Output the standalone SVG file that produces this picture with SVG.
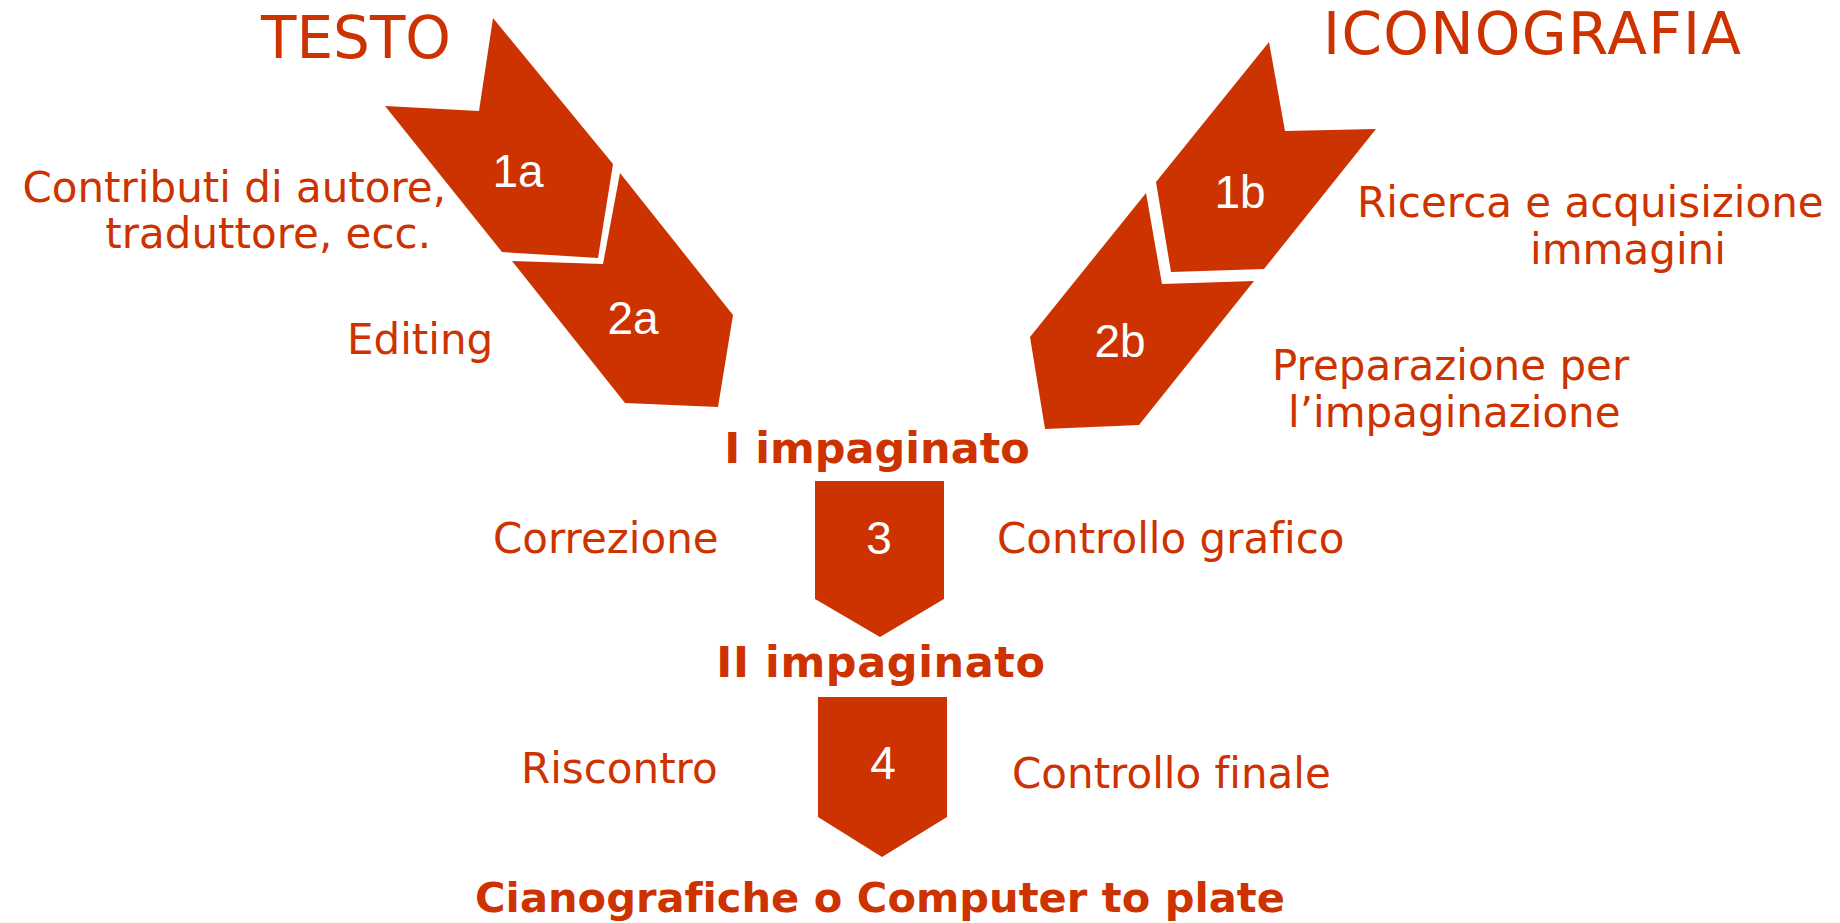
<svg xmlns="http://www.w3.org/2000/svg" width="1840" height="923" viewBox="0 0 1840 923">
<style>
text{font-variant-ligatures:none}
.shape{fill:#CC3300;stroke:none}
.lbl{font-family:"DejaVu Sans","Noto Sans",sans-serif;font-size:42px;fill:#CC3300}
.ttl{font-family:"DejaVu Sans","Noto Sans",sans-serif;font-size:58px;fill:#CC3300}
.bold{font-family:"DejaVu Sans","Noto Sans",sans-serif;font-size:43px;font-weight:bold;fill:#CC3300;text-anchor:middle}
.final{font-size:41.6px}
.num{font-family:"Liberation Sans",Arial,sans-serif;font-size:46px;fill:#FFFFFF;text-anchor:middle}
</style>
<rect width="1840" height="923" fill="#FFFFFF"/>
<g id="titles">
<text class="ttl" x="261" y="58">TESTO</text>
<text class="ttl" x="1323" y="54" letter-spacing="1.3">ICONOGRAFIA</text>
</g>
<g id="node-1a">
<polygon class="shape" points="493,18 613,164 598,258 502,252 385,106 479,111"/>
<text class="num" x="518" y="187">1a</text>
<text class="lbl" x="446" y="202" text-anchor="end">Contributi di autore,</text>
<text class="lbl" x="431" y="248" text-anchor="end">traduttore, ecc.</text>
</g>
<g id="node-2a">
<polygon class="shape" points="620,173 733,315 718,407 625,403 512,261 603,264"/>
<text class="num" x="633" y="334">2a</text>
<text class="lbl" x="347" y="354">Editing</text>
</g>
<g id="node-1b">
<polygon class="shape" points="1269,42 1285,131 1376,129 1264,269 1171,272 1156,182"/>
<text class="num" x="1240" y="208">1b</text>
<text class="lbl" x="1357" y="217">Ricerca e acquisizione</text>
<text class="lbl" x="1530" y="264">immagini</text>
</g>
<g id="node-2b">
<polygon class="shape" points="1146,193 1162,284 1254,281 1139,425 1045,429 1030,337"/>
<text class="num" x="1120" y="357">2b</text>
<text class="lbl" x="1272" y="380">Preparazione per</text>
<text class="lbl" x="1288" y="427">l’impaginazione</text>
</g>
<g id="stage-1">
<text class="bold" x="877" y="463">I impaginato</text>
</g>
<g id="node-3">
<polygon class="shape" points="815,481 944,481 944,599 880,637 815,599"/>
<text class="num" x="879" y="554">3</text>
<text class="lbl" x="493" y="553">Correzione</text>
<text class="lbl" x="997" y="553">Controllo grafico</text>
</g>
<g id="stage-2">
<text class="bold" x="881" y="677" letter-spacing="0.6">II impaginato</text>
</g>
<g id="node-4">
<polygon class="shape" points="818,697 947,697 947,817 882,857 818,817"/>
<text class="num" x="883" y="779">4</text>
<text class="lbl" x="521" y="783">Riscontro</text>
<text class="lbl" x="1012" y="788">Controllo finale</text>
</g>
<g id="stage-final">
<text class="bold final" x="880" y="912">Cianografiche o Computer to plate</text>
</g>
<g id="connectors"/>
</svg>
